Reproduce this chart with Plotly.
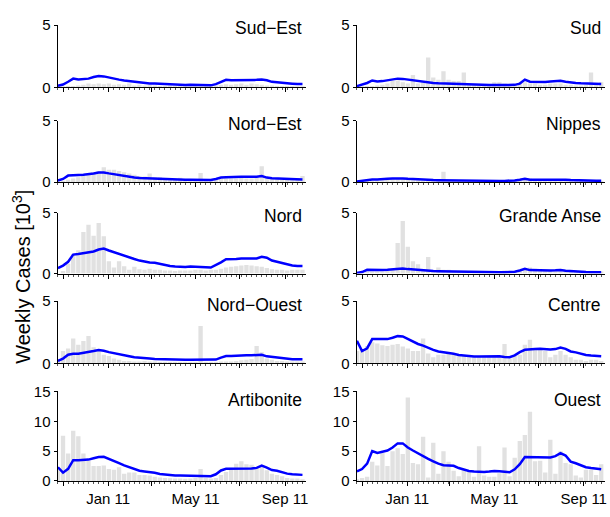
import pandas as pd
import plotly.graph_objects as go
from plotly.subplots import make_subplots

# Weekly observations, Oct 2010 - Sep 2011 (thousands of cases)
weeks = pd.date_range("2010-10-24", periods=49, freq="7D")

sud_est_cases = [0, 0.05, 0.1, 0.1, 0.15, 0.2, 0.3, 0.25, 0.3, 0.25, 0.3, 0.2, 0.25, 0.2, 0.3, 0.15, 0.2,
                 0.15, 0.2, 0.15, 0.1, 0.1, 0.15, 0.1, 0.1, 0.1, 0.05, 0.1, 0.1, 0.15, 0.1, 0.15, 0.2, 0.25,
                 0.2, 0.25, 0.3, 0.2, 0.3, 0.25, 0.2, 0.15, 0.15, 0.1, 0.1, 0.1, 0.1, 0.05, 0.05]
sud_est_model = [0.13, 0.23, 0.45, 0.7, 0.63, 0.65, 0.7, 0.83, 0.91, 0.88, 0.78, 0.7, 0.62, 0.55, 0.5, 0.44,
                 0.39, 0.34, 0.31, 0.31, 0.29, 0.23, 0.21, 0.21, 0.18, 0.18, 0.21, 0.21, 0.18, 0.18, 0.16,
                 0.26, 0.44, 0.6, 0.57, 0.57, 0.55, 0.55, 0.57, 0.6, 0.62, 0.57, 0.44, 0.39, 0.34, 0.31,
                 0.29, 0.26, 0.26]

sud_cases = [0, 0.05, 0.1, 0.1, 0.15, 0.2, 0.3, 0.5, 0.55, 0.4, 0.3, 1.0, 0.3, 0.4, 2.4, 0.8, 0.6, 1.3,
             0.6, 0.5, 0.5, 1.2, 0.3, 0.2, 0.15, 0.15, 0.2, 0.4, 0.4, 0.3, 0.2, 0.2, 0.3, 0.4, 0.3, 0.3,
             0.2, 0.2, 0.3, 0.3, 0.3, 0.2, 0.2, 0.15, 0.15, 0.2, 1.2, 0.3, 0.4]
sud_model = [0.1, 0.2, 0.35, 0.55, 0.47, 0.5, 0.55, 0.62, 0.7, 0.68, 0.62, 0.55, 0.5, 0.45, 0.4, 0.35,
             0.32, 0.3, 0.28, 0.26, 0.25, 0.22, 0.2, 0.2, 0.19, 0.18, 0.18, 0.18, 0.18, 0.18, 0.2, 0.2,
             0.3, 0.62, 0.45, 0.43, 0.43, 0.43, 0.46, 0.48, 0.52, 0.45, 0.38, 0.35, 0.32, 0.3, 0.28,
             0.27, 0.26]

nord_est_cases = [0, 0.1, 0.2, 0.3, 0.4, 0.5, 0.6, 0.8, 0.9, 1.2, 1.0, 1.0, 0.9, 0.8, 0.7, 0.6, 0.5,
                  0.45, 0.7, 0.4, 0.4, 0.3, 0.2, 0.2, 0.35, 0.25, 0.25, 0.2, 0.75, 0.2, 0.2, 0.25, 0.3,
                  0.3, 0.3, 0.3, 0.35, 0.3, 0.3, 0.4, 1.3, 0.4, 0.3, 0.25, 0.2, 0.2, 0.2, 0.3, 0.5]
nord_est_model = [0.13, 0.26, 0.53, 0.58, 0.58, 0.6, 0.63, 0.71, 0.79, 0.79, 0.71, 0.63, 0.55, 0.47,
                  0.42, 0.37, 0.34, 0.32, 0.29, 0.26, 0.24, 0.22, 0.21, 0.21, 0.2, 0.2, 0.2, 0.2, 0.2,
                  0.19, 0.18, 0.26, 0.37, 0.39, 0.42, 0.42, 0.43, 0.43, 0.42, 0.44, 0.5, 0.37, 0.32,
                  0.3, 0.26, 0.23, 0.22, 0.22, 0.21]

nippes_cases = [0, 0.05, 0.1, 0.1, 0.1, 0.15, 0.2, 0.3, 0.3, 0.25, 0.2, 0.15, 0.15, 0.1, 0.15, 0.1, 0.1,
                0.85, 0.1, 0.1, 0.05, 0.05, 0.05, 0.05, 0.05, 0.05, 0.05, 0.1, 0.1, 0.05, 0.05, 0.1, 0.1,
                0.2, 0.3, 0.2, 0.15, 0.1, 0.1, 0.15, 0.1, 0.1, 0.1, 0.05, 0.05, 0.05, 0.1, 0.05, 0.05]
nippes_model = [0.05, 0.12, 0.2, 0.22, 0.22, 0.22, 0.28, 0.3, 0.33, 0.3, 0.27, 0.24, 0.22, 0.2, 0.18,
                0.17, 0.16, 0.15, 0.14, 0.13, 0.12, 0.11, 0.1, 0.1, 0.1, 0.1, 0.1, 0.1, 0.1, 0.1, 0.1,
                0.14, 0.2, 0.28, 0.2, 0.2, 0.2, 0.2, 0.21, 0.22, 0.25, 0.2, 0.17, 0.15, 0.14, 0.13, 0.12,
                0.12, 0.11]

nord_cases = [0, 0.2, 0.8, 1.6, 1.9, 3.4, 4.0, 3.1, 4.15, 3.05, 1.0, 0.5, 1.0, 0.6, 0.3, 0.55, 0.35,
              0.3, 0.4, 0.3, 0.3, 0.25, 0.25, 0.2, 0.25, 0.25, 0.25, 0.3, 0.3, 0.25, 0.3, 0.3, 0.4, 0.5,
              0.55, 0.6, 0.65, 0.7, 0.65, 0.6, 0.55, 0.45, 0.35, 0.3, 0.3, 0.25, 0.3, 0.3, 0.3]
nord_model = [0.44, 0.65, 0.96, 1.55, 1.6, 1.66, 1.71, 1.81, 1.97, 2.05, 1.89, 1.74, 1.6, 1.47, 1.32,
              1.19, 1.06, 0.96, 0.91, 0.88, 0.78, 0.67, 0.62, 0.57, 0.54, 0.54, 0.57, 0.57, 0.54, 0.52,
              0.49, 0.67, 0.91, 1.17, 1.17, 1.19, 1.24, 1.24, 1.22, 1.24, 1.37, 1.3, 1.06, 0.96, 0.83,
              0.73, 0.65, 0.62, 0.62]

grande_anse_cases = [0, 0.05, 0.1, 0.15, 0.1, 0.15, 0.2, 0.3, 2.5, 4.3, 2.2, 1.0, 0.75, 0.2, 1.35, 0.25,
                     0.5, 0.3, 0.3, 0.2, 0.15, 0.1, 0.1, 0.1, 0.1, 0.15, 0.2, 0.15, 0.2, 0.25, 0.15, 0.2,
                     0.3, 0.45, 0.5, 0.4, 0.3, 0.2, 0.2, 0.25, 0.2, 0.15, 0.1, 0.1, 0.1, 0.1, 0.1, 0.1,
                     0.1]
grande_anse_model = [0.05, 0.12, 0.3, 0.28, 0.28, 0.28, 0.3, 0.33, 0.41, 0.41, 0.36, 0.32, 0.28, 0.25,
                     0.22, 0.2, 0.19, 0.18, 0.17, 0.15, 0.13, 0.12, 0.11, 0.1, 0.1, 0.1, 0.1, 0.1, 0.1,
                     0.1, 0.1, 0.15, 0.25, 0.38, 0.28, 0.26, 0.25, 0.25, 0.25, 0.26, 0.28, 0.22, 0.18,
                     0.16, 0.14, 0.12, 0.11, 0.1, 0.1]

nord_ouest_cases = [0.3, 1.0, 1.2, 2.0, 1.5, 1.8, 2.2, 1.3, 1.0, 0.7, 0.6, 0.4, 0.3, 0.2, 0.2, 0.15,
                    0.15, 0.2, 0.15, 0.15, 0.1, 0.1, 0.1, 0.1, 0.1, 0.1, 0.1, 0.1, 3.0, 0.1, 0.1, 0.1,
                    0.15, 0.15, 0.15, 0.2, 0.25, 0.3, 0.35, 1.4, 0.9, 0.4, 0.3, 0.2, 0.2, 0.15, 0.15,
                    0.15, 0.15]
nord_ouest_model = [0.2, 0.39, 0.7, 0.78, 0.78, 0.83, 0.88, 0.99, 1.07, 1.02, 0.91, 0.81, 0.73, 0.65,
                    0.57, 0.49, 0.44, 0.44, 0.39, 0.36, 0.34, 0.32, 0.3, 0.3, 0.29, 0.29, 0.29, 0.29,
                    0.29, 0.28, 0.28, 0.31, 0.47, 0.6, 0.6, 0.63, 0.65, 0.65, 0.65, 0.65, 0.7, 0.57,
                    0.52, 0.44, 0.39, 0.36, 0.34, 0.34, 0.34]

centre_cases = [1.0, 1.1, 1.4, 1.7, 1.6, 1.45, 1.4, 1.5, 1.55, 1.35, 1.2, 1.0, 1.0, 2.0, 0.8, 0.5, 0.7,
                0.7, 0.9, 0.7, 0.6, 0.6, 0.5, 0.5, 0.6, 0.5, 0.5, 0.5, 0.5, 1.55, 0.4, 0.6, 0.7, 1.5,
                1.9, 1.2, 1.1, 1.0, 0.5, 0.7, 1.0, 0.7, 0.5, 0.3, 0.3, 0.2, 0.3, 0.3, 0.2]
centre_model = [1.82, 0.99, 1.22, 1.95, 1.95, 1.95, 1.95, 2.06, 2.19, 2.16, 1.95, 1.74, 1.56, 1.43,
                1.25, 1.09, 0.96, 0.91, 0.89, 0.78, 0.68, 0.63, 0.57, 0.55, 0.55, 0.55, 0.57, 0.6,
                0.57, 0.52, 0.5, 0.65, 0.91, 1.09, 1.15, 1.15, 1.17, 1.12, 1.12, 1.15, 1.28, 1.17, 0.96,
                0.89, 0.78, 0.68, 0.63, 0.57, 0.57]

artibonite_cases = [2.0, 7.6, 4.6, 8.4, 7.5, 4.6, 3.4, 2.5, 2.5, 2.6, 2.0, 1.9, 2.3, 1.2, 1.4, 1.4,
                    1.0, 1.0, 0.9, 0.7, 0.6, 0.5, 0.45, 0.4, 0.4, 0.35, 0.4, 0.5, 2.0, 0.5, 0.4, 0.5,
                    1.0, 1.5, 2.2, 2.9, 3.3, 2.8, 2.7, 2.2, 2.5, 1.8, 1.2, 1.0, 0.8, 0.5, 0.4, 0.4, 0.3]
artibonite_model = [2.3, 1.39, 2.03, 3.48, 3.48, 3.53, 3.58, 3.8, 4.0, 4.06, 3.74, 3.37, 3.0, 2.62,
                    2.3, 1.98, 1.71, 1.6, 1.55, 1.39, 1.18, 1.07, 0.96, 0.91, 0.91, 0.91, 0.91, 0.91,
                    0.86, 0.8, 0.8, 1.12, 1.76, 2.03, 2.03, 2.08, 2.08, 2.03, 2.08, 2.19, 2.57, 2.25,
                    1.82, 1.71, 1.44, 1.23, 1.12, 1.07, 1.02]

ouest_cases = [0.3, 0.5, 0.7, 3.2, 2.6, 4.7, 2.5, 5.0, 5.5, 4.5, 14.0, 3.0, 2.8, 7.4, 0.6, 6.4, 1.2,
               5.0, 3.2, 1.7, 0.8, 2.0, 1.6, 0.7, 5.8, 0.9, 0.7, 0.7, 1.3, 5.6, 0.8, 3.9, 6.7, 7.7, 11.6,
               3.3, 3.4, 1.4, 6.9, 1.2, 5.0, 3.0, 2.8, 0.9, 0.6, 1.9, 1.9, 1.0, 2.8]
ouest_model = [1.6, 2.0, 2.9, 5.0, 4.7, 4.9, 5.1, 5.6, 6.3, 6.3, 5.6, 5.1, 4.6, 4.2, 3.7, 3.3, 2.9,
               2.65, 2.6, 2.55, 2.16, 1.9, 1.68, 1.57, 1.5, 1.5, 1.57, 1.68, 1.62, 1.5, 1.46, 1.95,
               2.8, 4.0, 4.0, 3.95, 4.0, 3.95, 3.95, 4.16, 4.65, 4.27, 3.24, 2.97, 2.65, 2.3, 2.16, 2.0,
               1.95]

# (name, cases, model, y max) in panel order, left column then right column
left_panels = [
    ("Sud\u2212Est", sud_est_cases, sud_est_model, 5),
    ("Nord\u2212Est", nord_est_cases, nord_est_model, 5),
    ("Nord", nord_cases, nord_model, 5),
    ("Nord\u2212Ouest", nord_ouest_cases, nord_ouest_model, 5),
    ("Artibonite", artibonite_cases, artibonite_model, 15),
]
right_panels = [
    ("Sud", sud_cases, sud_model, 5),
    ("Nippes", nippes_cases, nippes_model, 5),
    ("Grande Anse", grande_anse_cases, grande_anse_model, 5),
    ("Centre", centre_cases, centre_model, 5),
    ("Ouest", ouest_cases, ouest_model, 15),
]

W, H = 610, 517
col_px = [(57.7, 307.0), (357.7, 606.7)]
row_px = [(16.7, 81.0), (115.5, 179.0), (210.5, 273.5), (302.0, 366.5), (395.5, 488.0)]
title_y_px = [20, 119, 214, 306, 404]

FONT = "Liberation Sans, Arial, Helvetica, sans-serif"
BAR = "#e1e1e1"
LINE = "#0000ff"

fig = make_subplots(rows=5, cols=2)

for c, panels in enumerate([left_panels, right_panels]):
    for r, (name, cases, model, ymax) in enumerate(panels):
        row, col = r + 1, c + 1
        fig.add_trace(go.Bar(x=weeks, y=cases, marker=dict(color=BAR, line=dict(width=0)),
                             showlegend=False), row=row, col=col)
        fig.add_trace(go.Scatter(x=weeks, y=model, mode="lines",
                                 line=dict(color=LINE, width=2.5), showlegend=False),
                      row=row, col=col)
        x0, x1 = col_px[c]
        top, bot = row_px[r]
        # ticks every two months, labels on every second tick (Jan, May, Sep)
        fig.update_xaxes(
            domain=[x0 / W, x1 / W], range=["2010-10-23 10:00", "2011-09-29 20:00"],
            tickmode="linear", tick0="2011-01-01", dtick="M2", tickformat="%b %y",
            ticklabelstep=2,
            showticklabels=(r == 4), ticks="outside", ticklen=4, tickwidth=1, tickcolor="black",
            minor=dict(ticks="outside", ticklen=2, dtick=7 * 86400000, tick0="2010-10-24",
                       tickcolor="#555555"),
            showline=True, linecolor="black", linewidth=1, showgrid=False, zeroline=False,
            tickfont=dict(family=FONT, size=15, color="black"),
            row=row, col=col)
        yt = [0, 5] if ymax == 5 else [0, 5, 10, 15]
        fig.update_yaxes(
            domain=[1 - bot / H, 1 - top / H], range=[0, ymax], tickmode="array", tickvals=yt,
            ticks="outside", ticklen=3, tickcolor="black", showline=True, linecolor="black",
            linewidth=1, showgrid=False, zeroline=False,
            tickfont=dict(family=FONT, size=15, color="black"),
            row=row, col=col)
        fig.add_annotation(text=name, xref="paper", yref="paper", x=(x1 - 2) / W,
                           y=1 - title_y_px[r] / H, xanchor="right", yanchor="middle",
                           showarrow=False, font=dict(family=FONT, size=17.5, color="black"))

fig.add_annotation(text="Weekly Cases [10<sup>3</sup>]", xref="paper", yref="paper",
                   x=22 / W, y=1 - 277 / H, textangle=-90, xanchor="center", yanchor="middle",
                   showarrow=False, font=dict(family=FONT, size=20, color="black"))

fig.update_layout(width=W, height=H, margin=dict(l=0, r=0, t=0, b=0),
                  paper_bgcolor="white", plot_bgcolor="white", bargap=0.15,
                  font=dict(family=FONT, color="black"))

fig.write_html("out.html")
